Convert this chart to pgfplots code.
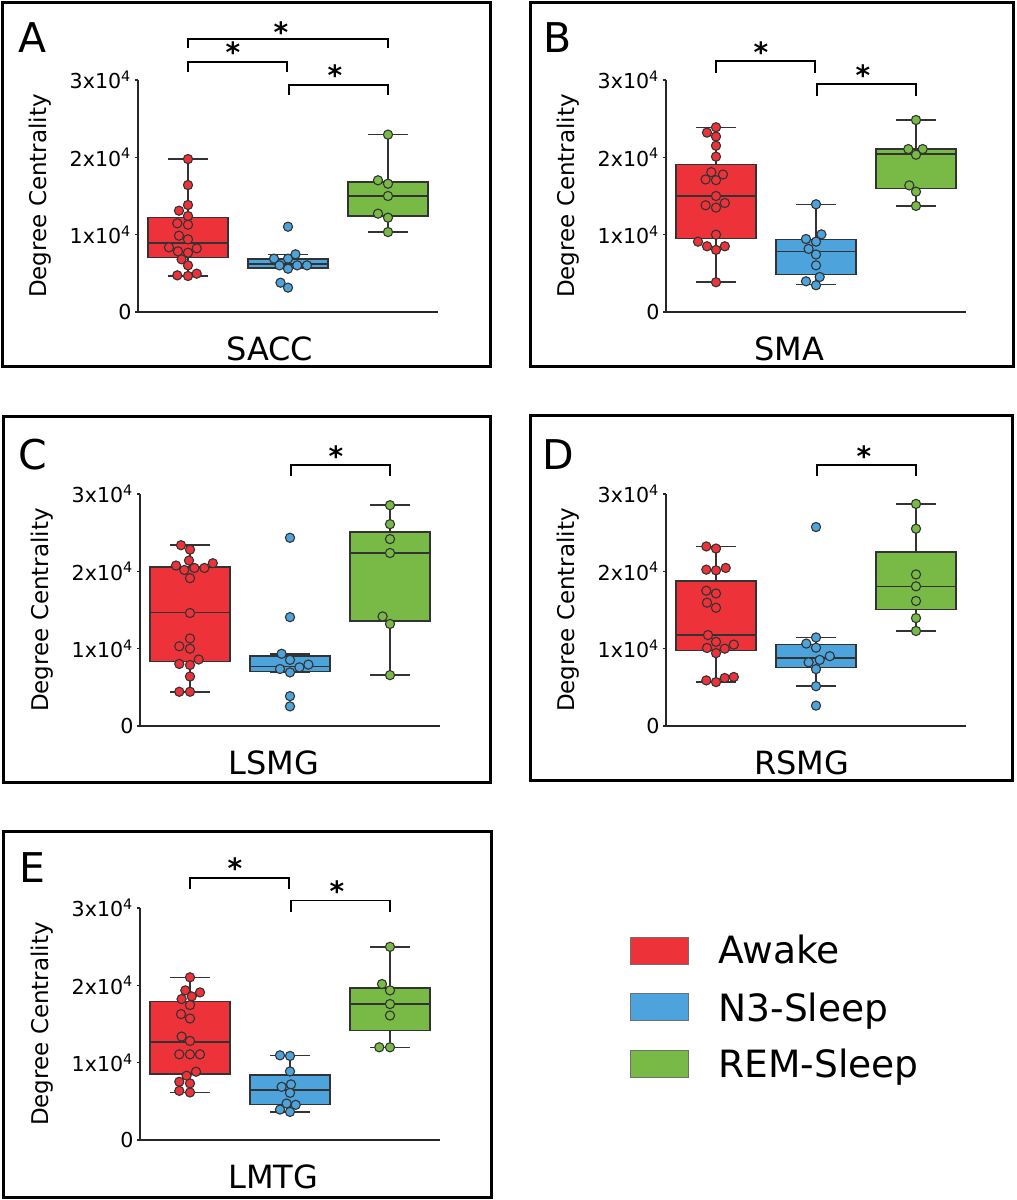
\documentclass[border=0pt]{standalone}
\usepackage{fontspec}
\setmainfont{DejaVu Sans}
\usepackage{pgfplots}
\pgfplotsset{compat=1.18}
\usepgfplotslibrary{statistics}
\definecolor{cRed}{HTML}{EE3239}
\definecolor{cBlue}{HTML}{4DA3DB}
\definecolor{cGreen}{HTML}{78BA45}
\definecolor{cEdge}{HTML}{333333}
\def\pxu{0.5pt}
% values are in units of 10^4
\pgfplotsset{
  panel/.style={
    scale only axis, width=150pt, height=116pt,
    xmin=-0.5, xmax=2.5, ymin=0, ymax=3,
    axis line style={draw=none},
    xtick=\empty,
    ytick={0,1,2,3},
    yticklabels={0,1x10\textsuperscript{4},2x10\textsuperscript{4},3x10\textsuperscript{4}},
    ytick pos=left, tick align=outside, major tick length=1.6pt,
    y tick style={line width=0.6pt, draw=black!85},
    yticklabel style={font=\fontsize{10.3pt}{12pt}\selectfont, inner sep=1.5pt},
    clip=false, anchor=south west,
  },
  boxst/.style={draw=cEdge, line width=0.75pt, solid},
  dotsty/.style={only marks, mark=*, mark size=2.3pt,
    mark options={fill=#1, draw=cEdge, line width=0.55pt}},
}
\tikzset{brk/.style={line width=0.85pt, black},
  sigstar/.style={font=\fontsize{14pt}{16pt}\selectfont\bfseries, inner sep=0pt}}
\newcommand\bx[7]{\addplot[boxst, fill=#7, boxplot/draw direction=y, boxplot prepared={draw position=#1,
  lower whisker=#2, lower quartile=#3, median=#4, upper quartile=#5,
  upper whisker=#6, box extend=0.8, whisker extend=0.4}] coordinates {};}
\newcommand\decor[1]{%
  \draw[line width=1pt, black!85] (rel axis cs:0,1) -- (rel axis cs:0,0) -- (rel axis cs:1,0);
  \node[rotate=90, font=\fontsize{11.5pt}{13pt}\selectfont] at (rel axis cs:-0.325,0.5) {Degree Centrality};
  \node[anchor=west, font=\fontsize{16pt}{18pt}\selectfont, inner sep=0pt] at (rel axis cs:0.293,-0.16) {#1};}
\begin{document}
\begin{tikzpicture}
\useasboundingbox (0,0) rectangle (1017*\pxu,-1200*\pxu);
% frames
\draw[line width=1.5pt] (2.5*\pxu,-2.5*\pxu) rectangle (490.5*\pxu,-366.5*\pxu);
\draw[line width=1.5pt] (530*\pxu,-2.5*\pxu) rectangle (1013*\pxu,-366.5*\pxu);
\draw[line width=1.5pt] (3*\pxu,-416*\pxu) rectangle (490*\pxu,-782*\pxu);
\draw[line width=1.5pt] (530*\pxu,-415*\pxu) rectangle (1012*\pxu,-780*\pxu);
\draw[line width=1.5pt] (3*\pxu,-831.5*\pxu) rectangle (491*\pxu,-1197.5*\pxu);
% panel letters
\node[font=\fontsize{20.5pt}{24pt}\selectfont] at (32.5*\pxu,-38*\pxu) {A};
\node[font=\fontsize{20.5pt}{24pt}\selectfont] at (557.5*\pxu,-37.5*\pxu) {B};
\node[font=\fontsize{20.5pt}{24pt}\selectfont] at (33*\pxu,-455*\pxu) {C};
\node[font=\fontsize{20.5pt}{24pt}\selectfont] at (558*\pxu,-455*\pxu) {D};
\node[font=\fontsize{20.5pt}{24pt}\selectfont] at (32.5*\pxu,-867.5*\pxu) {E};

% ---------------- A: SACC
\begin{axis}[panel, at={(138*\pxu,-312*\pxu)}]
\bx{0}{0.466}{0.705}{0.892}{1.224}{1.978}{cRed}
\bx{1}{0.560}{0.570}{0.621}{0.685}{0.746}{cBlue}
\bx{2}{1.034}{1.241}{1.500}{1.681}{2.294}{cGreen}
\addplot[dotsty=cRed] coordinates {(-0.09,1.310) (0,1.241) (-0.107,1.147) (0,1.129) (0,1.384) (0,1.642) (0,1.978) (-0.09,0.987) (0,0.940) (-0.19,0.836) (0.087,0.823) (-0.1,0.784) (0,0.767) (-0.064,0.681) (0,0.603) (-0.107,0.474) (0,0.466) (0.087,0.496)};
\addplot[dotsty=cBlue] coordinates {(1,1.103) (0.86,0.690) (1,0.690) (1.075,0.746) (0.915,0.603) (1,0.560) (1.092,0.603) (1.19,0.603) (0.925,0.379) (1,0.315)};
\addplot[dotsty=cGreen] coordinates {(1.9,1.703) (2,1.659) (2,1.500) (1.9,1.272) (2,1.220) (2,1.034) (2,2.294)};
\decor{SACC}
\draw[brk] (axis cs:0,3.415) -- (axis cs:0,3.532) -- (axis cs:2,3.532) -- (axis cs:2,3.415);
\draw[brk] (axis cs:0,3.105) -- (axis cs:0,3.234) -- (axis cs:0.99,3.234) -- (axis cs:0.99,3.105);
\draw[brk] (axis cs:1.01,2.807) -- (axis cs:1.01,2.937) -- (axis cs:2,2.937) -- (axis cs:2,2.807);
\node[sigstar] at (axis cs:0.93,3.625) {*};
\node[sigstar] at (axis cs:0.45,3.364) {*};
\node[sigstar] at (axis cs:1.47,3.066) {*};
\end{axis}

% ---------------- B: SMA
\begin{axis}[panel, at={(666*\pxu,-312*\pxu)}]
\bx{0}{0.385}{0.953}{1.500}{1.906}{2.389}{cRed}
\bx{1}{0.355}{0.487}{0.782}{0.936}{1.393}{cBlue}
\bx{2}{1.372}{1.594}{2.043}{2.107}{2.483}{cGreen}
\addplot[dotsty=cRed] coordinates {(0,2.389) (-0.09,2.320) (0,2.269) (0,2.150) (0,2.009) (-0.047,1.808) (0.07,1.778) (-0.104,1.714) (0,1.705) (0,1.500) (-0.104,1.380) (0,1.350) (0.088,1.410) (0,1.000) (-0.18,0.910) (-0.09,0.850) (0.088,0.850) (0,0.803) (0,0.385)};
\addplot[dotsty=cBlue] coordinates {(1,1.393) (0.9,0.944) (1.054,1.004) (1,0.910) (0.926,0.816) (1,0.744) (1,0.603) (1.037,0.453) (0.9,0.397) (1,0.346)};
\addplot[dotsty=cGreen] coordinates {(2,2.483) (1.923,2.107) (2.067,2.107) (2,2.034) (1.933,1.637) (2,1.556) (2,1.372)};
\decor{SMA}
\draw[brk] (axis cs:0,3.092) -- (axis cs:0,3.247) -- (axis cs:0.99,3.247) -- (axis cs:0.99,3.092);
\draw[brk] (axis cs:1.01,2.794) -- (axis cs:1.01,2.950) -- (axis cs:2,2.950) -- (axis cs:2,2.794);
\node[sigstar] at (axis cs:0.45,3.364) {*};
\node[sigstar] at (axis cs:1.47,3.066) {*};
\end{axis}

% ---------------- C: LSMG
\begin{axis}[panel, at={(140*\pxu,-726*\pxu)}]
\bx{0}{0.439}{0.833}{1.465}{2.053}{2.338}{cRed}
\bx{1}{0.693}{0.706}{0.772}{0.908}{0.934}{cBlue}
\bx{2}{0.658}{1.360}{2.237}{2.509}{2.855}{cGreen}
\addplot[dotsty=cRed] coordinates {(-0.09,2.338) (0,2.281) (-0.01,2.140) (-0.14,2.075) (-0.057,2.018) (0.044,2.044) (0.144,2.044) (0.228,2.105) (0,1.912) (0,1.461) (0,1.132) (-0.107,1.031) (0,1.000) (0.087,0.860) (-0.107,0.803) (0,0.789) (0,0.640) (-0.107,0.443) (0,0.443)};
\addplot[dotsty=cBlue] coordinates {(1,2.434) (1,1.408) (0.916,0.934) (1,0.855) (0.9,0.737) (1,0.693) (1.094,0.759) (1.184,0.794) (1,0.386) (1,0.254)};
\addplot[dotsty=cGreen] coordinates {(2,2.855) (2,2.610) (2,2.417) (2,2.237) (1.926,1.417) (2,1.320) (2,0.658)};
\decor{LSMG}
\draw[brk] (axis cs:1.01,3.230) -- (axis cs:1.01,3.373) -- (axis cs:2,3.373) -- (axis cs:2,3.230);
\node[sigstar] at (axis cs:1.46,3.490) {*};
\end{axis}

% ---------------- D: RSMG
\begin{axis}[panel, at={(666*\pxu,-726*\pxu)}]
\bx{0}{0.568}{0.974}{1.176}{1.872}{2.322}{cRed}
\bx{1}{0.515}{0.758}{0.877}{1.057}{1.145}{cBlue}
\bx{2}{1.229}{1.507}{1.806}{2.247}{2.872}{cGreen}
\addplot[dotsty=cRed] coordinates {(-0.097,2.322) (0,2.295) (-0.097,2.022) (0,2.013) (0.097,2.044) (-0.097,1.749) (0,1.714) (-0.09,1.595) (0,1.529) (-0.08,1.176) (0,1.088) (0.178,1.053) (-0.09,1.009) (0.087,1.000) (0,0.943) (-0.097,0.590) (0,0.568) (0.087,0.621) (0.178,0.634)};
\addplot[dotsty=cBlue] coordinates {(1,2.573) (1,1.145) (0.903,1.066) (1,1.013) (1.138,0.903) (1.037,0.855) (0.926,0.824) (1,0.736) (1,0.515) (1,0.264)};
\addplot[dotsty=cGreen] coordinates {(2,2.872) (2,2.551) (2,1.960) (2,1.806) (2,1.617) (2,1.396) (2,1.229)};
\decor{RSMG}
\draw[brk] (axis cs:1.01,3.230) -- (axis cs:1.01,3.373) -- (axis cs:2,3.373) -- (axis cs:2,3.230);
\node[sigstar] at (axis cs:1.48,3.490) {*};
\end{axis}

% ---------------- E: LMTG
\begin{axis}[panel, at={(140*\pxu,-1140*\pxu)}]
\bx{0}{0.615}{0.853}{1.268}{1.788}{2.104}{cRed}
\bx{1}{0.364}{0.459}{0.645}{0.840}{1.095}{cBlue}
\bx{2}{1.199}{1.416}{1.758}{1.965}{2.498}{cGreen}
\addplot[dotsty=cRed] coordinates {(0,2.104) (-0.047,1.935) (0.1,1.909) (-0.084,1.823) (0.017,1.857) (0,1.745) (-0.09,1.628) (0,1.571) (-0.084,1.338) (0,1.281) (-0.107,1.108) (0,1.108) (0.1,1.108) (0.06,0.883) (-0.034,0.831) (-0.107,0.753) (0,0.732) (-0.107,0.636) (0,0.615)};
\addplot[dotsty=cBlue] coordinates {(0.9,1.095) (1,1.087) (1,0.887) (0.916,0.688) (1.01,0.719) (1,0.610) (0.966,0.472) (1.057,0.455) (0.9,0.394) (1,0.364)};
\addplot[dotsty=cGreen] coordinates {(2,2.498) (1.92,2.017) (2,1.935) (2,1.758) (2,1.610) (1.893,1.199) (2,1.199)};
\decor{LMTG}
\draw[brk] (axis cs:0,3.244) -- (axis cs:0,3.386) -- (axis cs:0.99,3.386) -- (axis cs:0.99,3.244);
\draw[brk] (axis cs:1.01,2.947) -- (axis cs:1.01,3.097) -- (axis cs:2,3.097) -- (axis cs:2,2.947);
\node[sigstar] at (axis cs:0.45,3.515) {*};
\node[sigstar] at (axis cs:1.47,3.213) {*};
\end{axis}

% ---------------- legend
\draw[draw=cEdge!70, line width=0.4pt, fill=cRed] (630*\pxu,-937*\pxu) rectangle (688*\pxu,-964*\pxu);
\draw[draw=cEdge!70, line width=0.4pt, fill=cBlue] (630*\pxu,-993*\pxu) rectangle (688*\pxu,-1020*\pxu);
\draw[draw=cEdge!70, line width=0.4pt, fill=cGreen] (630*\pxu,-1050*\pxu) rectangle (688*\pxu,-1077*\pxu);
\node[anchor=base west, inner sep=0pt, font=\fontsize{18.8pt}{22pt}\selectfont] at (718*\pxu,-963.5*\pxu) {Awake};
\node[anchor=base west, inner sep=0pt, font=\fontsize{18.8pt}{22pt}\selectfont] at (718*\pxu,-1021*\pxu) {N3-Sleep};
\node[anchor=base west, inner sep=0pt, font=\fontsize{18.8pt}{22pt}\selectfont] at (718*\pxu,-1077*\pxu) {REM-Sleep};
\end{tikzpicture}
\end{document}
